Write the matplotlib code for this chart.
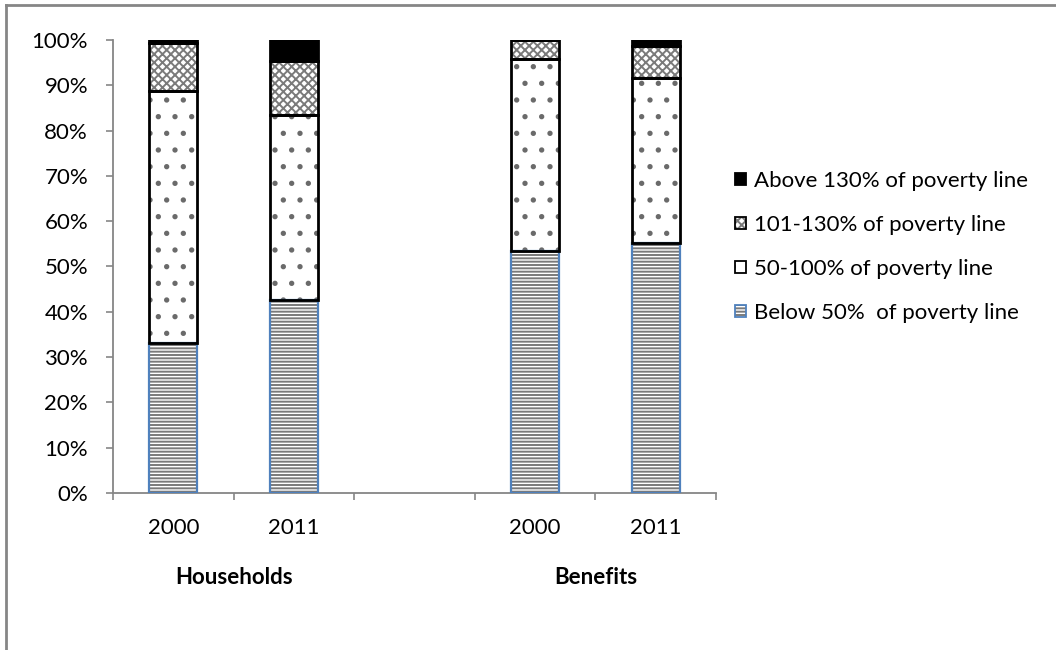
import matplotlib
matplotlib.use("Agg")
import matplotlib.pyplot as plt
import matplotlib.transforms as mtransforms
import numpy as np
from matplotlib.patches import Patch
from matplotlib.lines import Line2D
from matplotlib.legend_handler import HandlerTuple

plt.rcParams['font.family'] = ['Lato', 'DejaVu Sans']
plt.rcParams['hatch.linewidth'] = 1.4

# share of households / benefits by income band, in percent
groups = ["Households", "Benefits"]
years = ["2000", "2011", "2000", "2011"]
below_50 = [33.2, 42.7, 53.5, 55.1]
pct_50_100 = [55.6, 40.8, 42.3, 36.5]
pct_101_130 = [10.5, 11.9, 4.2, 7.1]
above_130 = [0.7, 4.6, 0.0, 1.3]

labels = ["Below 50%  of poverty line", "50-100% of poverty line",
          "101-130% of poverty line", "Above 130% of poverty line"]

GRAY = "#868686"
BLUE = "#4F81BD"
FS = 16

# (values, face, hatch, hatch colour, outline colour, outline width)
styles = [
    (below_50, "white", "-----", "#7a7a7a", BLUE, 1.6),
    (pct_50_100, "white", ".", "#6a6a6a", "black", 2.0),
    (pct_101_130, "white", "xxxx", "#7a7a7a", "black", 2.0),
    (above_130, "black", None, "black", "black", 2.0),
]

fig = plt.figure(figsize=(10.56, 6.5), dpi=100)
ax = fig.add_axes([113 / 1056, 1 - 493 / 650, 603 / 1056, 453 / 650])

# two bars per group with an empty slot between the groups
x = np.array([0, 1, 3, 4])
width = 0.4
bottom = np.zeros(len(x))
handles = []
for (vals, face, hatch, hcol, ecol, lw), lab in zip(styles, labels):
    vals = np.array(vals)
    ax.bar(x, vals, width, bottom=bottom, color=face, edgecolor=hcol,
           hatch=hatch, linewidth=0, zorder=2)
    ax.bar(x, vals, width, bottom=bottom, fill=False, edgecolor=ecol,
           linewidth=lw, zorder=3)
    bottom += vals
    handles.append((Patch(facecolor=face, edgecolor=hcol, hatch=hatch, linewidth=0),
                    Patch(fill=False, edgecolor=ecol, linewidth=1.3)))

ax.set_xlim(-0.5, 4.5)
ax.set_ylim(0, 100)
ax.set_yticks(np.arange(0, 101, 10))
ax.set_yticklabels([f"{v}%" for v in range(0, 101, 10)])
ax.tick_params(axis='y', direction='out', length=5, width=1.2, color=GRAY,
               labelsize=FS, pad=13)

# category boundary ticks; year and group labels placed in pixels below the axis
ax.set_xticks(np.arange(-0.5, 4.6, 1.0))
ax.set_xticklabels([])
ax.tick_params(axis='x', direction='out', length=5, width=1.2, color=GRAY)


def below_axis(px):
    return ax.get_xaxis_transform() + mtransforms.ScaledTranslation(
        0, -px / 100, fig.dpi_scale_trans)


for xi, yr in zip(x, years):
    ax.text(xi, 0, yr, transform=below_axis(35), ha='center', va='center', fontsize=FS)
for gx, g in zip([0.5, 3.5], groups):
    ax.text(gx, 0, g, transform=below_axis(85), ha='center', va='center',
            fontsize=FS, fontweight='bold')

for s in ['top', 'right']:
    ax.spines[s].set_visible(False)
for s in ['left', 'bottom']:
    ax.spines[s].set_color(GRAY)
    ax.spines[s].set_linewidth(1.3)

leg = fig.legend(handles[::-1], labels[::-1],
                 handler_map={tuple: HandlerTuple(ndivide=1, pad=0)},
                 loc='center left', bbox_to_anchor=(726 / 1056, 1 - 247 / 650),
                 frameon=False, fontsize=FS, handlelength=0.5, handleheight=0.5,
                 handletextpad=0.35, labelspacing=1.08, borderaxespad=0)

# outer chart border
fig.add_artist(Line2D([6 / 1056, 1], [1 - 5 / 650, 1 - 5 / 650], color=GRAY, lw=2))
fig.add_artist(Line2D([6 / 1056, 6 / 1056], [0, 1 - 5 / 650], color=GRAY, lw=2))

fig.savefig("out.png", dpi=100)
